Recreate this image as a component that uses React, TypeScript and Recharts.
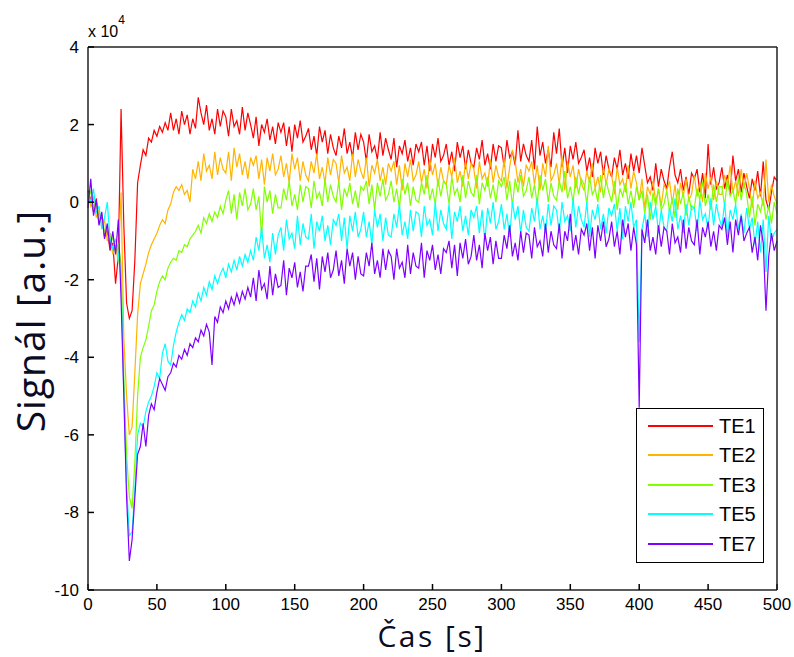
import { LineChart, Line, XAxis, YAxis, Legend } from "recharts";

// one sample every 2 s, 0..500 s; values in units of 1e4
const SAMPLE_STEP_S = 2;

const TE1 = [
  0.30, 0.05, -0.25, 0.10, -0.55, -0.35, -0.90, -0.70, -1.25, -1.05,
  -2.10, -1.40, 2.40, -0.60, -2.60, -3.00, -2.80, -1.50, 0.50, 0.95,
  1.35, 1.20, 1.65, 1.55, 1.85, 1.70, 1.95, 1.80, 2.05, 1.85,
  2.30, 1.85, 2.15, 1.75, 2.35, 2.00, 2.25, 1.75, 2.15, 1.90,
  2.70, 2.30, 2.00, 2.50, 1.85, 2.15, 1.75, 2.40, 1.95, 2.35,
  2.20, 1.70, 2.40, 1.95, 2.10, 1.75, 2.45, 1.85, 2.30, 2.00,
  1.65, 2.20, 1.45, 2.00, 1.80, 2.15, 1.60, 1.95, 1.50, 2.05,
  1.80, 2.05, 1.45, 1.95, 1.30, 2.00, 1.65, 2.10, 1.55, 1.70,
  1.90, 1.35, 1.70, 1.20, 1.95, 1.55, 1.85, 1.25, 1.75, 1.40,
  1.20, 1.70, 1.40, 1.90, 1.25, 1.55, 1.15, 1.80, 1.35, 1.75,
  1.55, 1.05, 1.75, 1.30, 1.45, 1.10, 1.80, 1.20, 1.65, 1.35,
  1.10, 1.65, 0.90, 1.45, 1.25, 1.60, 1.05, 1.40, 0.95, 1.50,
  1.30, 1.55, 0.95, 1.45, 0.80, 1.50, 1.15, 1.65, 1.05, 1.20,
  1.50, 0.95, 1.30, 0.80, 1.55, 1.15, 1.45, 0.85, 1.35, 1.00,
  0.90, 1.40, 1.10, 1.60, 0.95, 1.25, 0.85, 1.50, 1.05, 1.45,
  1.40, 0.90, 1.60, 1.15, 1.30, 0.95, 1.85, 1.05, 1.50, 1.20,
  1.05, 1.60, 0.85, 1.95, 1.20, 1.55, 1.00, 1.35, 0.90, 1.80,
  1.25, 1.90, 0.90, 1.40, 0.75, 1.45, 1.10, 1.55, 1.00, 1.15,
  1.35, 0.80, 1.15, 0.65, 1.40, 1.00, 1.30, 0.70, 1.20, 0.85,
  0.65, 1.15, 0.85, 1.35, 0.70, 1.00, 0.60, 1.25, 0.80, 1.20,
  0.75, 1.40, 0.95, 0.50, 0.65, 0.30, 1.00, 0.40, 0.85, 0.55,
  0.35, 0.90, 1.30, 0.70, 0.50, 0.85, 0.30, 0.65, 0.20, 0.75,
  0.60, 0.85, 0.25, 0.75, 0.10, 1.50, 0.45, 0.90, 0.35, 0.50,
  0.90, 0.35, 0.70, 0.20, 1.20, 0.55, 0.85, 0.25, 0.75, 0.40,
  0.10, 0.60, 0.30, 0.80, 0.15, 1.05, 0.05, -0.20, 0.25, 0.65,
  0.55,
];

const TE2 = [
  0.20, -0.10, 0.15, -0.40, -0.20, -0.65, -0.45, -1.00, -0.80, -1.35,
  -1.10, -1.55, 0.25, -3.50, -5.00, -6.00, -5.80, -4.40, -2.90, -2.10,
  -1.85, -1.60, -1.30, -1.10, -0.95, -0.80, -0.60, -0.45, -0.55, -0.20,
  -0.05, 0.25, 0.40, 0.30, 0.45, 0.20, 0.30, 0.00, 0.85, 0.60,
  1.05, 0.55, 1.25, 0.80, 0.95, 0.60, 1.30, 0.70, 1.15, 0.85,
  0.75, 1.30, 0.55, 1.40, 0.90, 1.25, 0.70, 1.05, 0.60, 1.15,
  0.95, 1.20, 0.60, 1.10, 0.45, 1.15, 0.80, 1.25, 0.70, 0.85,
  1.20, 0.65, 1.00, 0.50, 1.25, 0.85, 1.15, 0.55, 1.05, 0.70,
  0.55, 1.05, 0.75, 1.25, 0.60, 0.90, 0.50, 1.15, 0.70, 1.10,
  1.00, 0.50, 1.20, 0.75, 0.90, 0.55, 1.25, 0.65, 1.10, 0.80,
  0.60, 1.15, 0.40, 0.95, 0.75, 1.10, 0.55, 0.90, 0.45, 1.00,
  0.80, 1.05, 0.45, 0.95, 0.30, 1.00, 0.65, 1.10, 0.55, 0.70,
  1.05, 0.50, 0.85, 0.35, 1.10, 0.70, 1.00, 0.40, 0.90, 0.55,
  0.45, 0.95, 0.65, 1.15, 0.50, 0.80, 0.40, 1.05, 0.60, 1.00,
  0.85, 0.35, 1.05, 0.60, 0.75, 0.40, 1.10, 0.50, 0.95, 0.65,
  0.55, 1.10, 0.35, 0.90, 1.35, 1.05, 0.50, 0.85, 0.40, 0.95,
  0.80, 1.05, 0.45, 0.95, 0.30, 1.00, 0.65, 1.45, 0.55, 0.70,
  1.00, 0.45, 1.20, 0.30, 1.05, 0.65, 0.95, 0.35, 0.85, 0.50,
  0.30, 0.80, 0.50, 1.00, 0.35, 0.65, 0.25, 0.90, 0.45, 0.85,
  0.70, 0.20, 0.90, 0.45, 0.60, 0.25, 0.95, 0.35, 0.80, 0.50,
  0.05, 0.60, -0.15, 0.40, 0.20, 0.55, 0.00, 0.35, -0.10, 0.45,
  0.30, 0.55, -0.05, 0.45, -0.20, 0.50, 0.15, 0.60, 0.05, 0.20,
  0.70, 0.15, 0.50, 0.00, 0.75, 0.35, 0.65, 0.05, 0.55, 0.20,
  0.20, 0.70, 0.40, 0.95, 0.25, 0.55, 0.15, 0.85, 0.35, 0.75,
  0.35, -0.15, 0.55, 0.10, 0.25, -0.10, 1.10, 0.00, 0.45, 0.15,
  -0.05,
];

const TE3 = [
  0.10, 0.30, -0.20, -0.05, -0.50, -0.30, -0.80, -0.60, -1.10, -0.90,
  -1.30, -1.05, -1.60, -4.50, -6.50, -7.60, -7.90, -6.70, -5.00, -4.00,
  -3.75, -3.55, -3.20, -2.80, -2.65, -2.30, -2.05, -1.90, -2.00, -1.70,
  -1.55, -1.45, -1.50, -1.25, -1.30, -1.10, -1.15, -0.95, -0.85, -0.75,
  -0.60, -0.80, -0.40, -0.55, -0.30, -0.50, -0.25, -0.40, -0.10, -0.30,
  0.05, 0.30, -0.30, 0.20, -0.45, 0.25, -0.10, 0.35, -0.20, -0.05,
  0.35, -0.20, 0.15, -0.90, 0.40, 0.00, 0.30, -0.30, 0.20, -0.15,
  -0.15, 0.35, 0.05, 0.55, -0.10, 0.20, -0.20, 0.45, 0.00, 0.40,
  0.35, -0.15, 0.55, 0.10, 0.25, -0.10, 0.60, 0.00, 0.45, 0.15,
  0.00, 0.55, -0.20, 0.35, 0.15, 0.50, -0.05, 0.30, -0.15, 0.40,
  0.30, 0.55, -0.05, 0.45, -0.20, 0.50, 0.15, 0.60, 0.05, 0.20,
  0.55, 0.00, 0.35, -0.15, 0.60, 0.20, 0.50, -0.10, 0.40, 0.05,
  0.00, 0.50, 0.20, 0.70, 0.05, 0.35, -0.05, 0.60, 0.15, 0.55,
  0.45, -0.05, 0.65, 0.20, 0.35, 0.00, 0.70, 0.10, 0.55, 0.25,
  0.15, 0.70, -0.05, 0.50, 0.30, 0.65, 0.10, 0.45, 0.00, 0.55,
  0.40, 0.65, 0.05, 0.55, -0.10, 0.60, 0.25, 0.70, 0.15, 0.30,
  0.65, 0.10, 0.45, -0.05, 0.70, 0.30, 0.60, 0.00, 0.50, 0.15,
  0.05, 0.55, 0.25, 0.80, 0.10, 0.40, 0.00, 0.65, 0.20, 0.60,
  0.45, -0.05, 0.65, 0.20, 0.35, 0.00, 0.70, 0.10, 0.55, 0.25,
  0.00, 0.55, -0.20, 0.35, 0.15, 0.50, -0.05, 0.30, -0.15, 0.40,
  0.05, 0.30, -0.30, 0.20, -0.45, 0.25, -0.10, 0.35, -0.20, -0.05,
  0.30, -0.25, 0.10, -0.40, 0.35, -0.05, 0.25, -0.35, 0.15, -0.20,
  -0.15, 0.35, 0.05, 0.55, -0.10, 0.20, -0.20, 0.45, 0.00, 0.40,
  0.40, -0.10, 0.60, 0.15, 0.30, -0.05, 0.65, 0.05, 0.50, 0.20,
  -0.40, 0.15, -0.60, -0.05, -0.25, 0.10, -0.45, -0.10, -0.55, 0.00,
  -0.30,
];

const TE5 = [
  0.25, 0.00, 0.35, -0.30, -0.10, -0.70, -0.40, 0.00, -0.95, -1.20,
  -0.95, -1.30, -2.00, -4.90, -7.30, -8.60, -8.50, -7.40, -6.00, -5.70,
  -5.80, -5.40, -5.15, -5.00, -4.75, -4.40, -4.55, -3.90, -3.65, -4.10,
  -4.20, -3.70, -3.35, -3.10, -2.90, -3.05, -2.75, -2.85, -2.55, -2.70,
  -2.35, -2.55, -2.20, -2.40, -2.05, -2.25, -1.90, -2.10, -1.85, -1.70,
  -1.95, -1.60, -1.80, -1.50, -1.75, -1.40, -1.65, -1.35, -1.55, -1.25,
  -1.50, -0.90, -1.25, -0.65, -1.45, -1.10, -1.55, -0.80, -1.35, -0.85,
  -0.65, -1.25, -0.45, -0.95, -0.80, -1.20, -0.35, -1.10, -0.55, -0.90,
  -0.95, -0.30, -1.20, -0.50, -0.75, -0.35, -1.00, -0.60, -1.10, -0.45,
  -0.60, -0.30, -1.00, -0.40, -1.20, -0.35, -0.75, -0.25, -0.90, -0.70,
  -0.25, -0.90, -0.50, -1.10, -0.20, -0.65, -0.30, -1.00, -0.40, -0.85,
  -0.90, -0.30, -0.65, -0.05, -0.85, -0.50, -0.95, -0.20, -0.75, -0.25,
  -0.30, -0.90, -0.10, -0.60, -0.45, -0.85, 0.00, -0.75, -0.20, -0.55,
  -0.70, -0.05, -0.95, -0.25, -0.50, -0.10, -0.75, -0.35, -0.85, -0.20,
  -0.40, -0.10, -0.80, -0.20, -1.00, -0.15, -0.55, 0.00, -0.70, -0.50,
  -0.05, -0.70, -0.30, -0.90, 0.00, -0.45, -0.10, -0.80, -0.20, -0.65,
  -0.75, -0.15, -0.50, 0.10, -0.70, -0.35, -0.80, -0.05, -0.60, -0.10,
  -0.20, -0.80, 0.00, -0.50, -0.35, -0.75, 0.10, -0.65, -0.10, -0.45,
  -0.65, 0.00, -0.90, -0.20, -0.45, -0.05, -0.70, -0.30, -0.80, -0.15,
  -0.35, -0.05, -0.75, -0.15, -0.95, -0.10, -0.50, 0.00, -0.65, -0.45,
  -3.60, -0.70, -0.30, -0.90, 0.00, -0.45, -0.10, -0.80, -0.20, -0.65,
  -0.75, -0.15, -0.50, 0.10, -0.70, -0.35, -0.80, -0.05, -0.60, -0.10,
  -0.15, -0.75, 0.05, -0.45, -0.30, -0.70, 0.10, -0.60, -0.05, -0.40,
  -0.65, 0.00, -0.90, -0.20, -0.45, -0.05, -0.70, -0.30, -0.80, -0.15,
  -0.70, -0.40, -1.10, -0.50, -1.30, -0.45, -1.80, -0.35, -1.00, -0.80,
  -0.70,
];

const TE7 = [
  -0.15, 0.60, -0.35, 0.05, -0.60, -0.25, -0.95, -0.55, -1.20, -0.75,
  -1.35, -0.45, -2.50, -5.00, -7.60, -9.25, -8.70, -7.60, -6.50, -6.30,
  -5.70, -6.30, -5.50, -5.20, -5.35, -4.90, -4.55, -4.70, -4.85, -4.50,
  -4.40, -4.15, -4.25, -3.95, -4.05, -3.80, -3.95, -3.65, -3.75, -3.50,
  -3.60, -3.30, -3.45, -3.15, -3.35, -4.20, -2.95, -3.10, -2.70, -2.85,
  -2.55, -2.75, -2.45, -2.65, -2.35, -2.60, -2.30, -2.50, -2.20, -2.45,
  -1.95, -2.55, -1.75, -2.25, -2.10, -2.50, -1.65, -2.40, -1.85, -2.20,
  -2.15, -1.50, -2.40, -1.70, -1.95, -1.55, -2.20, -1.80, -2.30, -1.65,
  -1.65, -1.35, -2.05, -1.45, -2.25, -1.40, -1.80, -1.30, -1.95, -1.75,
  -1.25, -1.90, -1.50, -2.10, -1.20, -1.65, -1.30, -2.00, -1.40, -1.85,
  -1.90, -1.30, -1.65, -1.05, -1.85, -1.50, -1.95, -1.20, -1.75, -1.25,
  -1.40, -2.00, -1.20, -1.70, -1.55, -1.95, -1.10, -1.85, -1.30, -1.65,
  -1.70, -1.05, -1.95, -1.25, -1.50, -1.10, -1.75, -1.35, -1.85, -1.20,
  -1.30, -1.00, -1.70, -1.10, -1.90, -1.05, -1.45, -0.95, -1.60, -1.40,
  -0.85, -1.50, -1.10, -1.70, -0.80, -1.25, -0.90, -1.60, -1.00, -1.45,
  -1.45, -0.85, -1.20, -0.60, -1.40, -1.05, -1.50, -0.75, -1.30, -0.80,
  -0.85, -1.45, -0.65, -1.15, -1.00, -1.40, -0.55, -1.30, -0.75, -1.10,
  -1.20, -0.55, -1.45, -0.75, -1.00, -0.30, -1.25, -0.85, -1.35, -0.70,
  -0.85, -0.55, -1.25, -0.65, -1.45, -0.60, -1.00, -0.50, -1.15, -0.95,
  -0.50, -1.15, -0.75, -1.35, -0.45, -0.90, -0.55, -1.25, -0.65, -1.10,
  -5.30, -0.70, -1.05, -0.45, -1.25, -0.90, -1.35, -0.60, -1.15, -0.65,
  -0.75, -1.35, -0.55, -1.05, -0.90, -1.30, -0.45, -1.20, -0.65, -1.00,
  -1.10, -0.45, -1.35, -0.65, -0.90, -0.50, -1.15, -0.75, -1.25, -0.60,
  -0.70, -0.40, -1.10, -0.50, -1.30, -0.45, -0.85, -0.35, -1.00, -0.80,
  -0.65, -1.30, -0.90, -1.50, -0.60, -1.05, -2.80, -1.40, -0.80, -1.25,
  -1.00,
];

const X_TICKS = [0, 50, 100, 150, 200, 250, 300, 350, 400, 450, 500];
const Y_TICKS = [-10, -8, -6, -4, -2, 0, 2, 4];

const SERIES = [
  { key: "te1", name: "TE1", color: "#ff0000" },
  { key: "te2", name: "TE2", color: "#ffb400" },
  { key: "te3", name: "TE3", color: "#80ff00" },
  { key: "te5", name: "TE5", color: "#00ffff" },
  { key: "te7", name: "TE7", color: "#8000ff" },
];

const data = TE1.map((v, i) => ({
  t: i * SAMPLE_STEP_S,
  te1: v,
  te2: TE2[i],
  te3: TE3[i],
  te5: TE5[i],
  te7: TE7[i],
}));

const AXIS = "#222";
const tickFont = { fontSize: 17, fill: "#000", fontFamily: "'Liberation Sans', Arial, sans-serif" };
const tickLine = { stroke: "#000", strokeWidth: 1.5 };
const titleFont = "'Open Sans', sans-serif";

function LegendBox() {
  return (
    <div
      style={{
        width: 128,
        height: 155,
        boxSizing: "border-box",
        border: "1px solid #000",
        background: "#fff",
        paddingTop: 2,
        fontFamily: "'Liberation Sans', Arial, sans-serif",
        fontSize: 20,
        color: "#000",
      }}
    >
      {SERIES.map(s => (
        <div key={s.key} style={{ height: 29.5, display: "flex", alignItems: "center" }}>
          <span style={{ marginLeft: 11, width: 65, height: 0, borderTop: `2px solid ${s.color}` }} />
          <span style={{ marginLeft: 6, lineHeight: 1 }}>{s.name}</span>
        </div>
      ))}
    </div>
  );
}

export default function App() {
  return (
    <div style={{ position: "absolute", left: 0, top: 0, width: 794, height: 657, background: "#fff" }}>
      <LineChart width={794} height={657} data={data} margin={{ top: 46, right: 16, left: 8, bottom: 27 }}>
        <XAxis
          dataKey="t"
          type="number"
          domain={[0, 500]}
          ticks={X_TICKS}
          tick={tickFont}
          tickLine={tickLine}
          tickSize={-6}
          tickMargin={14}
          height={40}
          stroke={AXIS}
          strokeWidth={1.5}
        />
        <XAxis
          xAxisId="top"
          orientation="top"
          type="number"
          domain={[0, 500]}
          ticks={X_TICKS}
          tick={false}
          tickLine={tickLine}
          tickSize={-6}
          height={1}
          stroke={AXIS}
          strokeWidth={1.5}
        />
        <YAxis
          type="number"
          domain={[-10, 4]}
          ticks={Y_TICKS}
          tick={tickFont}
          tickLine={tickLine}
          tickSize={-6}
          tickMargin={15}
          width={80}
          stroke={AXIS}
          strokeWidth={1.5}
        />
        <YAxis
          yAxisId="right"
          orientation="right"
          type="number"
          domain={[-10, 4]}
          ticks={Y_TICKS}
          tick={false}
          tickLine={tickLine}
          tickSize={-6}
          width={1}
          stroke={AXIS}
          strokeWidth={1.5}
        />
        {SERIES.map(s => (
          <Line
            key={s.key}
            type="linear"
            dataKey={s.key}
            name={s.name}
            stroke={s.color}
            strokeWidth={1.2}
            dot={false}
            activeDot={false}
            isAnimationActive={false}
          />
        ))}
        <Legend
          layout="horizontal"
          verticalAlign="middle"
          align="center"
          content={() => <LegendBox />}
          wrapperStyle={{ left: 636, top: 408, width: 128, height: 155 }}
        />
      </LineChart>
      <svg width={794} height={657} style={{ position: "absolute", left: 0, top: 0, pointerEvents: "none" }}>
        <text x={88} y={37} fontFamily="'Liberation Sans', Arial, sans-serif" fontSize={16} fill="#000">
          x 10<tspan dy={-13} fontSize={12}>4</tspan>
        </text>
        <text
          x={432}
          y={647}
          textAnchor="middle"
          fontFamily={titleFont}
          fontSize={30}
          letterSpacing={2.5}
          fill="#0b0b24"
        >
          Čas [s]
        </text>
        <text
          x={45}
          y={321}
          transform="rotate(-90 45 321)"
          textAnchor="middle"
          fontFamily={titleFont}
          fontSize={39}
          letterSpacing={1}
          fill="#0b0b24"
        >
          Signál [a.u.]
        </text>
      </svg>
    </div>
  );
}
